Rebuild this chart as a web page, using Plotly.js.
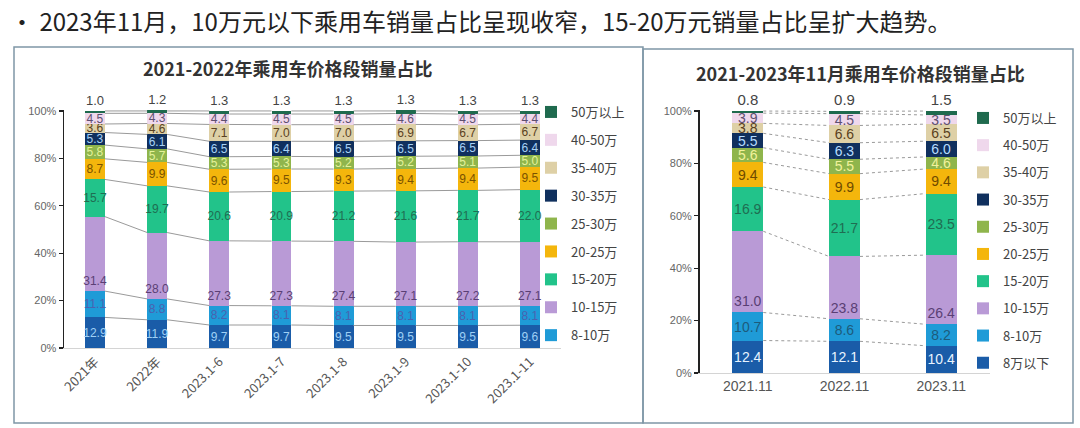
<!DOCTYPE html>
<html><head><meta charset="utf-8">
<script src="https://cdn.plot.ly/plotly-3.0.1.min.js"></script>
<style>html,body{margin:0;padding:0;background:#fff}#chart{width:1080px;height:428px}</style>
</head><body><div id="chart"></div>
<script>
// ---------- text ----------
const headline = "• 2023年11月，10万元以下乘用车销量占比呈现收窄，15-20万元销量占比呈扩大趋势。";
const leftTitle = "2021-2022年乘用车价格段销量占比";
const rightTitle = "2021-2023年11月乘用车价格段销量占比";
const seriesNames = ["8万以下","8-10万","10-15万","15-20万","20-25万","25-30万","30-35万","35-40万","40-50万","50万以上"];
const yTickVals = [0,20,40,60,80,100];
const yTickText = ["0%","20%","40%","60%","80%","100%"];

// ---------- left chart data ----------
const leftCategories = ["2021年","2022年","2023.1-6","2023.1-7","2023.1-8","2023.1-9","2023.1-10","2023.1-11"];
const leftBelow8   = [12.9,11.9,9.7,9.7,9.5,9.5,9.5,9.6];
const left8to10    = [11.1,8.8,8.2,8.1,8.1,8.1,8.1,8.1];
const left10to15   = [31.4,28.0,27.3,27.3,27.4,27.1,27.2,27.1];
const left15to20   = [15.7,19.7,20.6,20.9,21.2,21.6,21.7,22.0];
const left20to25   = [8.7,9.9,9.6,9.5,9.3,9.4,9.4,9.5];
const left25to30   = [5.8,5.7,5.3,5.3,5.2,5.2,5.1,5.0];
const left30to35   = [5.3,6.1,6.5,6.4,6.5,6.5,6.5,6.4];
const left35to40   = [3.6,4.6,7.1,7.0,7.0,6.9,6.7,6.7];
const left40to50   = [4.5,4.3,4.4,4.5,4.5,4.6,4.5,4.4];
const leftAbove50  = [1.0,1.2,1.3,1.3,1.3,1.3,1.3,1.3];

// ---------- right chart data ----------
const rightCategories = ["2021.11","2022.11","2023.11"];
const rightBelow8  = [12.4,12.1,10.4];
const right8to10   = [10.7,8.6,8.2];
const right10to15  = [31.0,23.8,26.4];
const right15to20  = [16.9,21.7,23.5];
const right20to25  = [9.4,9.9,9.4];
const right25to30  = [5.6,5.5,4.6];
const right30to35  = [5.5,6.3,6.0];
const right35to40  = [3.8,6.6,6.5];
const right40to50  = [3.9,4.5,3.5];
const rightAbove50 = [0.8,0.9,1.5];

// ---------- styles ----------
const barColors = ["#1a5ca8","#1f9bd7","#b99ad6","#22c38a","#f4b60c","#8fb54c","#10305e","#ded0a6","#efd8ec","#1f6a4e"];
const leftLabelColors  = ["#9fd0f5","#4a62b0","#5a3f74","#1f6d52","#7a5200","#e4f29a","#a8d2f6","#5a4020","#5e4f70","#444444"];
const rightLabelColors = ["#e8f4ff","#1d5b7c","#5a3f74","#1f6d52","#6e4a00","#f2f29c","#b6dcff","#5a4020","#5e4f70","#444444"];
const labelFont = "Liberation Sans Narrow, Liberation Sans, Arial, sans-serif";
const cjkFont = "Noto Sans CJK SC, sans-serif";
const W = 1080, H = 428;
const px = v => v / W, py = v => 1 - v / H;
const barWidth = 0.32;
const yMax = 100.4;

const leftSeries  = [leftBelow8,left8to10,left10to15,left15to20,left20to25,left25to30,left30to35,left35to40,left40to50,leftAbove50];
const rightSeries = [rightBelow8,right8to10,right10to15,right15to20,right20to25,right25to30,right30to35,right35to40,right40to50,rightAbove50];

function makeBars(cats, series, xa, ya, legendId, fontSize, labelColors, hideInLegend) {
  const xs = cats.map((_, i) => i);
  return series.map((vals, k) => {
    const t = {
      type: "bar", x: xs, y: vals, name: seriesNames[k],
      xaxis: xa, yaxis: ya, legend: legendId, legendgroup: legendId + "g" + k,
      legendrank: 100 - k,
      width: barWidth, marker: {color: barColors[k], line: {width: 0}},
      texttemplate: "%{y:.1f}", textangle: 0, constraintext: "none",
      textposition: "inside", insidetextanchor: "middle",
      textfont: {size: fontSize, color: labelColors[k], family: labelFont},
      outsidetextfont: {size: fontSize + 1, color: labelColors[k], family: labelFont},
      cliponaxis: false, hoverinfo: "name+y",
      showlegend: !hideInLegend.includes(k)
    };
    if (k === 2) t.insidetextanchor = "start";
    if (k === series.length - 1) t.textposition = "outside";
    return t;
  });
}

function makeSeriesLines(cats, series, xa, ya, dash) {
  const n = cats.length;
  const cum = [];
  let run = new Array(n).fill(0);
  series.forEach(vals => { run = run.map((r, i) => r + vals[i]); cum.push(run.slice()); });
  const xs = [], ys = [];
  cum.forEach(level => {
    for (let i = 0; i < n - 1; i++) {
      xs.push(i + barWidth / 2, i + 1 - barWidth / 2, null);
      ys.push(Math.min(level[i], 100), Math.min(level[i + 1], 100), null);
    }
  });
  return {type: "scatter", mode: "lines", x: xs, y: ys, xaxis: xa, yaxis: ya,
    line: {color: "#9a9a9a", width: 1, dash: dash}, showlegend: false, hoverinfo: "skip", cliponaxis: false};
}

const traces = [
  ...makeBars(leftCategories, leftSeries, "x", "y", "legend", 12, leftLabelColors, [0]),
  makeSeriesLines(leftCategories, leftSeries, "x", "y", "solid"),
  ...makeBars(rightCategories, rightSeries, "x2", "y2", "legend2", 14, rightLabelColors, []),
  makeSeriesLines(rightCategories, rightSeries, "x2", "y2", "dot")
];

const yAxisBase = {range: [0, yMax], tickvals: yTickVals, ticktext: yTickText, showline: true,
  linecolor: "#222", linewidth: 1.5, ticks: "outside", ticklen: 4, tickcolor: "#222", tickwidth: 1.2,
  showgrid: false, zeroline: false, fixedrange: true,
  tickfont: {size: 11, color: "#666", family: labelFont}};

const layout = {
  width: W, height: H, margin: {l: 0, r: 0, t: 0, b: 0},
  paper_bgcolor: "#ffffff", plot_bgcolor: "rgba(0,0,0,0)",
  barmode: "stack", showlegend: true,
  font: {family: cjkFont, color: "#444"},
  xaxis: {domain: [px(64), px(561)], range: [-0.5, leftCategories.length - 0.5],
    tickvals: leftCategories.map((_, i) => i), ticktext: leftCategories, tickangle: -45,
    showline: true, linecolor: "#d4d4d4", linewidth: 1, ticks: "", showgrid: false, zeroline: false, fixedrange: true,
    tickfont: {size: 13, color: "#555", family: cjkFont}},
  yaxis: Object.assign({}, yAxisBase, {domain: [py(348), py(110)]}),
  xaxis2: {domain: [px(699.5), px(989.5)], range: [-0.5, rightCategories.length - 0.5],
    tickvals: rightCategories.map((_, i) => i), ticktext: rightCategories, tickangle: 0,
    showline: true, linecolor: "#d4d4d4", linewidth: 1, ticks: "", showgrid: false, zeroline: false, fixedrange: true,
    tickfont: {size: 14, color: "#555", family: labelFont}, anchor: "y2"},
  yaxis2: Object.assign({}, yAxisBase, {domain: [py(373), py(110)], anchor: "x2"}),
  legend: {x: px(531), xanchor: "left", y: py(97), yanchor: "top", traceorder: "grouped",
    tracegroupgap: 8, bgcolor: "rgba(0,0,0,0)", font: {size: 13, color: "#444", family: cjkFont}, itemwidth: 30},
  legend2: {x: px(963), xanchor: "left", y: py(103), yanchor: "top", traceorder: "grouped",
    tracegroupgap: 7.3, bgcolor: "rgba(0,0,0,0)", font: {size: 13, color: "#444", family: cjkFont}, itemwidth: 30},
  shapes: [
    {type: "rect", xref: "paper", yref: "paper", x0: px(14), x1: px(643), y0: py(423), y1: py(47),
      line: {color: "#7f97a6", width: 1.5}, layer: "below"},
    {type: "rect", xref: "paper", yref: "paper", x0: px(643), x1: px(1073), y0: py(423), y1: py(49),
      line: {color: "#7f97a6", width: 1.5}, layer: "below"}
  ],
  annotations: [
    {text: headline, xref: "paper", yref: "paper", x: px(8), y: py(20), xanchor: "left", yanchor: "middle",
      showarrow: false, font: {size: 24, color: "#222", family: cjkFont}},
    {text: "<b>" + leftTitle + "</b>", xref: "paper", yref: "paper", x: px(288), y: py(68), xanchor: "center", yanchor: "middle",
      showarrow: false, font: {size: 18, color: "#333", family: cjkFont}},
    {text: "<b>" + rightTitle + "</b>", xref: "paper", yref: "paper", x: px(860), y: py(73), xanchor: "center", yanchor: "middle",
      showarrow: false, font: {size: 18, color: "#333", family: cjkFont}}
  ]
};

Plotly.newPlot("chart", traces, layout, {displayModeBar: false, staticPlot: true});
</script>
</body></html>
